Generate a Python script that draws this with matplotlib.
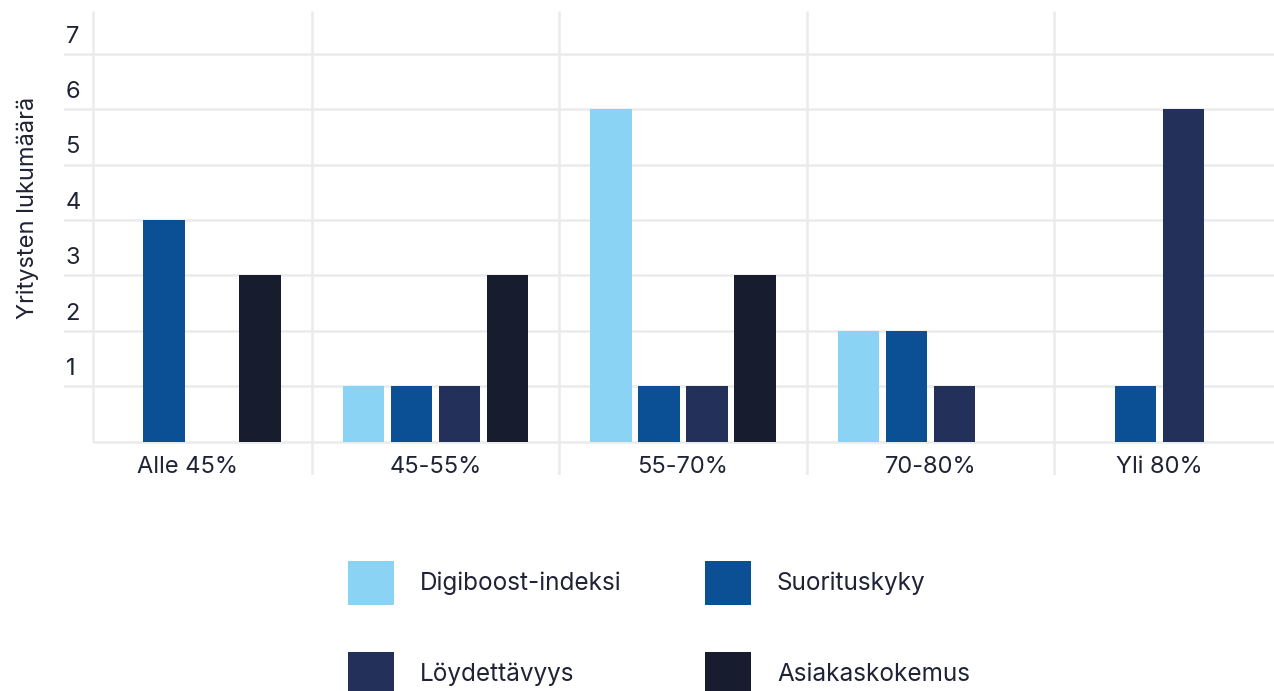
import matplotlib
matplotlib.use('Agg')
import matplotlib.pyplot as plt
import numpy as np

plt.rcParams['font.family'] = ['Inter', 'DejaVu Sans']

# yritysten lukumäärä luokittain
categories = ['Alle 45%', '45-55%', '55-70%', '70-80%', 'Yli 80%']
series = ['Digiboost-indeksi', 'Suorituskyky', 'Löydettävyys', 'Asiakaskokemus']
digiboost = [0, 1, 6, 2, 0]
suorituskyky = [4, 1, 1, 2, 1]
loydettavyys = [0, 1, 1, 1, 6]
asiakaskokemus = [3, 3, 3, 0, 0]
y_ticks = [1, 2, 3, 4, 5, 6, 7]

values = [digiboost, suorituskyky, loydettavyys, asiakaskokemus]
colors = ['#8bd3f5', '#0b4f94', '#23305a', '#171c2e']
text_col = '#1f2335'
grid_col = '#ebebeb'

# ryhmien keskikohdat (viimeinen ryhmä hieman vasemmalla)
centers = np.array([0, 1, 2, 3, 3.925])
bar_w = 0.166
step = 0.194

fig = plt.figure(figsize=(12.74, 6.91), dpi=100)
ax = fig.add_axes([64 / 1274, 1 - 475 / 691, 1 - 64 / 1274, 464 / 691])
ax.set_xlim(-0.501, 4.388)
ax.set_ylim(-0.6, 7.77)
ax.axis('off')

# ruudukko
for v in y_ticks:
    ax.axhline(v, color=grid_col, lw=1.8, zorder=0)
    ax.text(-0.495, v + 0.31, str(v), ha='left', va='center', fontsize=17, color=text_col)
ax.hlines(0, -0.384, 4.388, color=grid_col, lw=1.8, zorder=0)
ax.vlines(-0.384, 0, 7.77, color=grid_col, lw=1.8, zorder=0)
for s in [0.5, 1.5, 2.5, 3.5]:
    ax.vlines(s, -0.6, 7.77, color=grid_col, lw=1.8, zorder=0)

handles = []
for k, (vals, c, name) in enumerate(zip(values, colors, series)):
    vals = np.array(vals)
    pos = centers + (k - 1.5) * step
    keep = vals > 0
    b = ax.bar(pos[keep], vals[keep], width=bar_w, color=c, label=name, zorder=2)
    handles.append(b)

for x, lab in zip(centers, categories):
    ax.text(x, -0.45, lab, ha='center', va='center', fontsize=17, color=text_col)

fig.text(28 / 1274, 1 - 208 / 691, 'Yritysten lukumäärä', rotation=90,
         ha='center', va='center', fontsize=17, color=text_col)

# selite kahteen sarakkeeseen, rivi kerrallaan
order = [0, 2, 1, 3]
leg = fig.legend([handles[i] for i in order], [series[i] for i in order],
                 loc='upper left', bbox_to_anchor=(348 / 1274, 1 - 561 / 691),
                 ncol=2, frameon=False, fontsize=17.5, borderpad=0, borderaxespad=0,
                 handlelength=1.9, handleheight=2.4, handletextpad=1.05,
                 columnspacing=3.45, labelspacing=1.93)
for t in leg.get_texts():
    t.set_color(text_col)

fig.savefig('out.png', dpi=100)
